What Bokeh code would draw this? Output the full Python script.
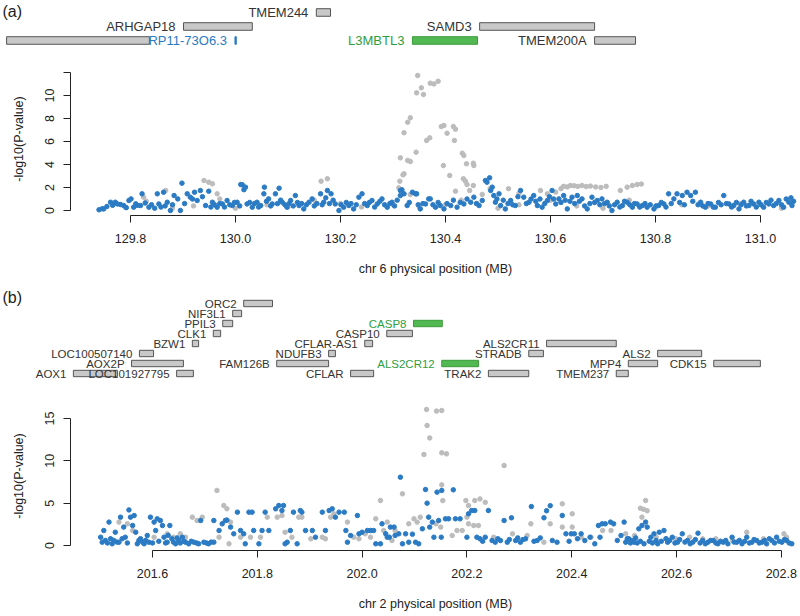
from bokeh.plotting import figure
from bokeh.models import Range1d, FixedTicker, ColumnDataSource
from bokeh.core.properties import value
from bokeh.embed import file_html
from bokeh.resources import INLINE

FONT = "Liberation Sans"
W = 800
BLUE = "#2b7bc4"
GRAY = "#bcbcbc"
INK = "#222222"

# ---------------- panel (a): chr 6 ----------------
a_xticks = [129.8, 130.0, 130.2, 130.4, 130.6, 130.8, 131.0]
a_xtick_labels = ["129.8", "130.0", "130.2", "130.4", "130.6", "130.8", "131.0"]
a_yticks = [0, 2, 4, 6, 8, 10, 12]
a_ytick_labels = ["0", "2", "4", "6", "8", "10", ""]
a_xtitle = "chr 6 physical position (MB)"

a_genes = ["LAMA2", "ARHGAP18", "TMEM244", "RP11-73O6.3", "L3MBTL3", "SAMD3", "TMEM200A"]
a_gstart = [129.564, 129.901, 130.154, 129.999, 130.337, 130.465, 130.684]
a_gend = [129.836, 130.032, 130.181, 130.0015, 130.461, 130.684, 130.762]
a_grow = [2, 1, 0, 2, 2, 1, 2]
a_gkind = ["other", "other", "other", "lnc", "hit", "other", "other"]

a_blue = [
    (129.740, 0.06), (129.746, 0.15), (129.749, 0.14), (129.755, 0.35), (129.762, 0.72), (129.766, 0.45),
    (129.771, 0.72), (129.775, 0.57), (129.781, 0.52), (129.787, 0.43), (129.792, 0.25), (129.797, 0.87),
    (129.801, 1.01), (129.806, 0.29), (129.810, 0.58), (129.813, 0.45), (129.819, 0.43), (129.822, 1.45),
    (129.828, 0.65), (129.835, 0.29), (129.840, 0.5), (129.846, 0.2), (129.851, 1.45), (129.854, 0.57),
    (129.858, 0.3), (129.863, 1.59), (129.866, 0.4), (129.870, 0.72), (129.876, 0.0), (129.880, 0.5),
    (129.883, 1.30), (129.890, 1.01), (129.898, 2.38), (129.895, 0.0), (129.903, 0.6), (129.908, 1.45),
    (129.914, 1.16), (129.918, 1.0), (129.922, 1.59), (129.927, 0.87), (129.933, 1.74), (129.937, 1.2),
    (129.943, 0.43), (129.949, 1.68), (129.953, 0.3), (129.956, 0.72), (129.960, 0.5), (129.965, 0.29),
    (129.970, 0.6), (129.975, 0.57), (129.979, 0.3), (129.984, 0.87), (129.989, 0.5), (129.994, 0.43),
    (129.998, 0.7), (130.003, 0.72), (130.008, 0.4), (130.010, 2.26), (130.013, 2.23), (130.016, 1.81),
    (130.019, 2.03), (130.022, 0.57), (130.027, 0.7), (130.032, 0.29), (130.036, 0.6), (130.041, 0.72),
    (130.044, 0.3), (130.048, 0.43), (130.054, 1.45), (130.055, 2.03), (130.059, 0.8), (130.063, 1.01),
    (130.067, 0.4), (130.070, 0.57), (130.076, 1.45), (130.080, 0.6), (130.083, 1.94), (130.086, 0.9),
    (130.089, 0.72), (130.094, 0.5), (130.098, 0.29), (130.102, 0.6), (130.105, 0.87), (130.110, 0.4),
    (130.114, 1.30), (130.118, 0.7), (130.121, 0.43), (130.126, 0.6), (130.130, 0.14), (130.135, 0.5),
    (130.140, 0.72), (130.146, 1.01), (130.150, 0.4), (130.155, 0.6), (130.162, 1.45), (130.165, 0.5),
    (130.168, 0.72), (130.172, 1.1), (130.175, 1.74), (130.179, 0.6), (130.182, 1.45), (130.186, 0.9),
    (130.190, 0.57), (130.197, 0.0), (130.201, 0.5), (130.206, 0.29), (130.211, 0.7), (130.216, 0.43),
    (130.220, 0.6), (130.225, 0.14), (130.230, 0.5), (130.235, 1.16), (130.241, 1.45), (130.246, 0.6),
    (130.251, 0.43), (130.255, 0.7), (130.260, 0.87), (130.265, 0.3), (130.270, 0.57), (130.275, 0.8),
    (130.279, 1.01), (130.284, 0.5), (130.289, 0.29), (130.294, 0.6), (130.298, 0.72), (130.303, 0.4),
    (130.308, 0.9), (130.314, 1.74), (130.314, 1.30), (130.317, 1.80), (130.321, 1.45), (130.327, 0.43),
    (130.331, 0.7), (130.337, 1.59), (130.343, 1.45), (130.345, 1.45), (130.348, 0.5), (130.352, 0.14),
    (130.357, 0.6), (130.362, 0.57), (130.368, 1.01), (130.371, 1.01), (130.376, 0.5), (130.381, 0.29),
    (130.386, 0.7), (130.390, 0.43), (130.397, 0.14), (130.403, 0.6), (130.410, 0.43), (130.415, 0.9),
    (130.422, 0.29), (130.428, 0.7), (130.435, 0.57), (130.441, 1.0), (130.448, 0.72), (130.454, 1.16),
    (130.459, 0.6), (130.464, 0.43), (130.470, 0.87), (130.476, 2.61), (130.479, 2.46), (130.484, 2.84),
    (130.486, 1.74), (130.489, 2.03), (130.492, 1.30), (130.495, 0.72), (130.498, 1.0), (130.502, 1.45),
    (130.505, 0.43), (130.510, 0.9), (130.514, 0.14), (130.519, 0.6), (130.524, 0.87), (130.528, 0.5),
    (130.533, 0.43), (130.538, 1.2), (130.543, 1.74), (130.549, 1.16), (130.554, 0.6), (130.559, 0.72),
    (130.563, 1.0), (130.568, 1.30), (130.572, 0.8), (130.575, 0.43), (130.580, 1.0), (130.584, 0.29),
    (130.589, 0.6), (130.594, 0.87), (130.598, 1.2), (130.603, 1.74), (130.606, 1.0), (130.610, 0.57),
    (130.616, 1.01), (130.620, 0.7), (130.625, 1.30), (130.628, 0.9), (130.632, 0.14), (130.637, 0.8),
    (130.641, 1.16), (130.646, 0.6), (130.651, 1.30), (130.655, 0.8), (130.660, 1.01), (130.665, 0.4),
    (130.670, 0.14), (130.675, 0.6), (130.679, 1.16), (130.684, 0.7), (130.689, 0.87), (130.694, 0.5),
    (130.698, 1.01), (130.703, 0.6), (130.708, 0.72), (130.712, 0.4), (130.717, 0.0), (130.722, 0.5),
    (130.727, 0.72), (130.732, 0.3), (130.737, 0.43), (130.741, 0.8), (130.746, 0.72), (130.751, 0.5),
    (130.756, 0.29), (130.760, 0.6), (130.765, 0.57), (130.770, 0.3), (130.775, 0.43), (130.780, 0.6),
    (130.784, 0.29), (130.790, 0.5), (130.797, 0.14), (130.801, 0.4), (130.806, 0.43), (130.811, 0.7),
    (130.816, 0.57), (130.820, 0.3), (130.825, 1.45), (130.830, 0.6), (130.835, 1.01), (130.841, 1.45),
    (130.846, 0.7), (130.851, 1.30), (130.855, 0.5), (130.860, 1.59), (130.867, 1.30), (130.871, 0.8),
    (130.876, 1.59), (130.881, 0.5), (130.886, 0.72), (130.890, 0.4), (130.895, 0.29), (130.900, 0.6),
    (130.905, 0.57), (130.910, 0.3), (130.914, 0.29), (130.920, 0.7), (130.925, 0.5), (130.930, 1.30),
    (130.935, 0.6), (130.940, 0.57), (130.945, 0.3), (130.949, 0.43), (130.954, 0.7), (130.959, 0.14),
    (130.963, 0.5), (130.968, 0.72), (130.973, 0.4), (130.978, 0.43), (130.982, 0.8), (130.987, 0.57),
    (130.992, 0.3), (130.997, 0.72), (131.001, 0.5), (131.006, 0.29), (131.011, 0.7), (131.016, 0.57),
    (131.020, 0.9), (131.025, 0.43), (131.030, 0.6), (131.035, 0.87), (131.040, 0.5), (131.044, 0.29),
    (131.049, 1.0), (131.054, 0.72), (131.058, 1.1), (131.060, 0.43), (131.063, 0.8),
]

a_gray = [
    (130.347, 11.74), (130.345, 10.23), (130.354, 10.67), (130.358, 10.09), (130.371, 11.07), (130.378, 11.01),
    (130.386, 11.24), (130.333, 8.06), (130.328, 7.68), (130.321, 6.76), (130.370, 6.32), (130.364, 6.09),
    (130.344, 5.07), (130.314, 4.58), (130.328, 4.35), (130.333, 4.26), (130.319, 3.10), (130.313, 2.55),
    (130.311, 1.97), (130.392, 7.30), (130.397, 7.39), (130.403, 6.72), (130.415, 7.30), (130.419, 7.07),
    (130.417, 6.09), (130.432, 4.98), (130.435, 4.78), (130.440, 4.06), (130.453, 4.11), (130.454, 3.91),
    (130.396, 3.91), (130.408, 3.04), (130.434, 2.76), (130.438, 2.55), (130.441, 2.26), (130.419, 1.68),
    (130.453, 2.17), (130.446, 1.74), (130.163, 2.55), (130.175, 2.76), (130.333, 1.39), (130.321, 3.19),
    (129.940, 2.61), (129.949, 2.46), (129.956, 2.32), (129.965, 1.45), (129.825, 1.16), (129.867, 1.74),
    (129.790, 0.3), (129.830, 0.8), (129.880, 0.2), (129.920, 0.4), (129.970, 1.0), (130.000, 0.2),
    (130.060, 0.5), (130.100, 0.3), (130.150, 0.9), (130.200, 0.6), (130.240, 0.3), (130.300, 0.5),
    (130.350, 0.3), (130.400, 0.5), (130.430, 0.9), (130.460, 0.6), (130.500, 0.2), (130.540, 0.5),
    (130.600, 0.9), (130.650, 0.4), (130.700, 0.2), (130.750, 0.9), (130.800, 0.3), (130.850, 0.5),
    (130.900, 0.4), (130.960, 0.6), (131.000, 0.5), (131.040, 0.2),
    (130.581, 1.74), (130.594, 1.45), (130.625, 2.1), (130.632, 2.05), (130.638, 2.17), (130.645, 2.15),
    (130.652, 2.1), (130.660, 2.17), (130.668, 2.08), (130.676, 2.12), (130.686, 2.05), (130.696, 2.0),
    (130.706, 2.1), (130.733, 1.74), (130.746, 2.03), (130.756, 2.17), (130.765, 2.26), (130.773, 2.3),
    (130.620, 1.9), (130.610, 1.6), (130.540, 1.5), (130.520, 1.9), (130.470, 1.4), (130.485, 1.9),
]

# ---------------- panel (b): chr 2 ----------------
b_xticks = [201.6, 201.8, 202.0, 202.2, 202.4, 202.6, 202.8]
b_xtick_labels = ["201.6", "201.8", "202.0", "202.2", "202.4", "202.6", "202.8"]
b_yticks = [0, 5, 10, 15]
b_ytick_labels = ["0", "5", "10", "15"]
b_xtitle = "chr 2 physical position (MB)"

b_genes = ["ORC2", "NIF3L1", "PPIL3", "CASP8", "CLK1", "CASP10", "BZW1", "CFLAR-AS1", "ALS2CR11",
           "LOC100507140", "NDUFB3", "STRADB", "ALS2", "AOX2P", "FAM126B", "ALS2CR12", "MPP4", "CDK15",
           "AOX1", "LOC101927795", "CFLAR", "TRAK2", "TMEM237"]
b_gstart = [201.774, 201.753, 201.734, 202.098, 201.716, 202.047, 201.676, 202.005, 202.352,
            201.575, 201.936, 202.318, 202.564, 201.560, 201.837, 202.152, 202.508, 202.671,
            201.449, 201.646, 201.978, 202.241, 202.485]
b_gend = [201.829, 201.770, 201.753, 202.153, 201.730, 202.096, 201.688, 202.020, 202.485,
          201.602, 201.949, 202.346, 202.648, 201.659, 201.936, 202.222, 202.564, 202.760,
          201.533, 201.678, 202.022, 202.318, 202.508]
b_grow = [0, 1, 2, 2, 3, 3, 4, 4, 4, 5, 5, 5, 5, 6, 6, 6, 6, 6, 7, 7, 7, 7, 7]
b_gkind = ["other", "other", "other", "hit", "other", "other", "other", "other", "other",
           "other", "other", "other", "other", "other", "other", "hit", "other", "other",
           "other", "other", "other", "other", "other"]

b_blue = [
    (201.501, 0.98), (201.504, 0.39), (201.507, 1.77), (201.510, 0.6), (201.514, 0.3), (201.517, 2.76),
    (201.520, 0.8), (201.523, 0.2), (201.526, 0.6), (201.529, 1.57), (201.532, 0.4), (201.536, 0.39),
    (201.539, 3.35), (201.542, 0.8), (201.545, 2.17), (201.548, 0.98), (201.552, 0.3), (201.555, 4.2),
    (201.558, 3.35), (201.562, 2.36), (201.565, 3.54), (201.568, 1.57), (201.571, 0.2), (201.574, 0.6),
    (201.577, 0.79), (201.581, 0.4), (201.584, 0.2), (201.587, 0.6), (201.590, 1.18), (201.593, 0.39),
    (201.596, 3.35), (201.600, 0.3), (201.603, 2.76), (201.606, 1.77), (201.609, 3.15), (201.612, 0.5),
    (201.615, 2.95), (201.619, 2.36), (201.622, 0.98), (201.625, 0.3), (201.628, 0.39), (201.630, 1.2),
    (201.633, 2.36), (201.637, 0.79), (201.640, 0.4), (201.644, 0.2), (201.647, 0.9), (201.650, 0.59),
    (201.653, 0.3), (201.657, 0.98), (201.660, 0.5), (201.663, 0.39), (201.669, 0.2), (201.674, 0.5),
    (201.679, 0.39), (201.684, 0.3), (201.688, 0.2), (201.692, 2.95), (201.698, 0.39), (201.703, 0.3),
    (201.707, 0.2), (201.712, 0.4), (201.717, 2.95), (201.717, 0.39), (201.727, 1.77), (201.733, 2.56),
    (201.739, 2.95), (201.742, 3.0), (201.749, 2.17), (201.755, 1.38), (201.762, 3.94), (201.768, 1.77),
    (201.774, 1.38), (201.777, 0.2), (201.784, 3.94), (201.790, 3.94), (201.793, 1.77), (201.803, 0.2),
    (201.809, 1.77), (201.815, 3.94), (201.822, 1.77), (201.835, 4.33), (201.841, 4.72), (201.847, 4.13),
    (201.850, 4.72), (201.853, 0.2), (201.857, 0.39), (201.863, 1.77), (201.869, 3.94), (201.876, 0.2),
    (201.882, 4.13), (201.885, 3.94), (201.892, 1.77), (201.905, 1.77), (201.911, 0.98), (201.924, 3.94),
    (201.930, 1.77), (201.937, 4.13), (201.943, 4.33), (201.949, 3.35), (201.956, 3.94), (201.966, 3.94),
    (201.969, 1.77), (201.972, 0.39), (201.978, 1.18), (201.991, 3.54), (201.994, 1.38), (202.000, 1.57),
    (202.010, 1.77), (202.016, 1.77), (202.022, 1.77), (202.026, 0.2), (202.035, 0.2), (202.038, 2.56),
    (202.045, 1.38), (202.048, 0.98), (202.052, 0.98), (202.054, 2.17), (202.061, 2.17), (202.063, 1.18),
    (202.070, 1.38), (202.073, 8.07), (202.077, 0.2), (202.083, 1.38), (202.089, 0.39), (202.096, 1.34),
    (202.102, 0.39), (202.108, 0.2), (202.115, 1.97), (202.121, 6.61), (202.124, 5.0), (202.127, 3.35),
    (202.129, 2.17), (202.134, 2.76), (202.137, 0.98), (202.143, 6.3), (202.146, 2.95), (202.152, 6.5),
    (202.151, 0.98), (202.159, 3.15), (202.165, 3.15), (202.174, 6.57), (202.178, 3.15), (202.187, 3.15),
    (202.200, 0.98), (202.203, 3.74), (202.209, 4.13), (202.215, 4.13), (202.219, 0.98), (202.225, 0.79),
    (202.230, 0.5), (202.235, 0.98), (202.241, 4.13), (202.248, 0.59), (202.254, 0.39), (202.259, 0.8),
    (202.264, 0.59), (202.271, 2.95), (202.277, 0.39), (202.281, 0.7), (202.285, 3.27), (202.293, 0.59),
    (202.297, 0.9), (202.302, 0.39), (202.307, 0.7), (202.312, 0.79), (202.323, 4.6), (202.328, 0.5),
    (202.334, 0.59), (202.340, 0.9), (202.347, 3.27), (202.352, 4.1), (202.359, 4.7), (202.363, 0.59),
    (202.372, 0.39), (202.382, 3.54), (202.389, 1.38), (202.395, 0.5), (202.399, 1.38), (202.405, 1.38),
    (202.411, 0.8), (202.418, 1.38), (202.425, 0.59), (202.435, 0.98), (202.444, 0.2), (202.451, 2.36),
    (202.454, 0.98), (202.458, 2.56), (202.464, 2.56), (202.474, 2.76), (202.480, 2.56), (202.487, 0.6),
    (202.494, 1.18), (202.500, 2.76), (202.503, 0.39), (202.506, 0.8), (202.509, 0.79), (202.512, 0.3),
    (202.515, 0.6), (202.519, 0.39), (202.522, 0.9), (202.525, 0.3), (202.528, 1.97), (202.531, 0.5),
    (202.534, 2.36), (202.538, 0.2), (202.541, 2.76), (202.544, 2.17), (202.548, 0.5), (202.551, 0.98),
    (202.554, 0.3), (202.557, 1.38), (202.561, 0.6), (202.564, 0.2), (202.567, 1.57), (202.571, 0.5),
    (202.576, 1.77), (202.580, 0.8), (202.583, 0.39), (202.587, 0.6), (202.592, 0.98), (202.597, 0.3),
    (202.602, 0.39), (202.606, 0.7), (202.611, 1.38), (202.616, 0.4), (202.621, 0.59), (202.626, 0.2),
    (202.631, 0.39), (202.636, 0.7), (202.641, 1.46), (202.645, 0.3), (202.650, 0.59), (202.655, 0.2),
    (202.660, 0.39), (202.665, 0.6), (202.670, 0.59), (202.675, 0.3), (202.679, 0.2), (202.684, 0.5),
    (202.689, 0.39), (202.694, 0.6), (202.698, 0.2), (202.706, 0.98), (202.710, 0.4), (202.715, 0.39),
    (202.720, 0.6), (202.725, 0.2), (202.730, 0.5), (202.734, 0.98), (202.739, 0.3), (202.744, 0.39),
    (202.748, 0.7), (202.753, 0.59), (202.758, 0.3), (202.763, 0.39), (202.768, 0.6), (202.772, 0.2),
    (202.777, 0.8), (202.782, 0.59), (202.787, 0.3), (202.791, 0.98), (202.796, 0.5), (202.801, 0.39),
    (202.806, 0.7), (202.810, 0.59), (202.815, 0.3), (202.820, 0.2),
]

b_gray = [
    (202.123, 16.06), (202.142, 15.87), (202.152, 15.94), (202.124, 14.17), (202.129, 12.7), (202.118, 10.75),
    (202.152, 10.94), (202.161, 10.82), (202.271, 9.44), (202.077, 6.1), (202.152, 7.16), (202.154, 5.3),
    (202.035, 5.31), (202.198, 5.31), (202.203, 4.72), (202.215, 5.31), (202.225, 5.5), (202.235, 5.1),
    (202.200, 3.35), (202.203, 2.56), (202.213, 2.36), (202.222, 2.36), (202.099, 3.15), (202.089, 2.56),
    (202.105, 2.76), (202.111, 3.35), (202.141, 2.56), (202.150, 2.17), (202.172, 1.18), (202.181, 1.77),
    (202.191, 1.77), (202.382, 4.92), (202.401, 3.74), (202.322, 2.56), (202.359, 2.56), (202.382, 2.17),
    (202.401, 2.17), (202.541, 5.31), (202.531, 4.4), (202.537, 4.27), (202.544, 4.1), (202.534, 3.35),
    (202.459, 1.77), (202.475, 1.77), (202.251, 0.98), (202.287, 1.38), (202.315, 1.18), (202.347, 0.39),
    (202.418, 0.98), (202.437, 0.98), (202.503, 1.38), (202.520, 1.18), (202.561, 0.98), (202.580, 0.79),
    (202.599, 0.79), (202.625, 0.98), (202.650, 0.79), (202.675, 0.79), (202.707, 0.59), (202.734, 1.57),
    (202.766, 0.79), (202.805, 1.38), (202.810, 0.98),
    (201.536, 2.76), (201.552, 2.56), (201.562, 1.77), (201.577, 0.79), (201.603, 0.98), (201.628, 1.38),
    (201.640, 0.98), (201.653, 1.38), (201.663, 0.98), (201.676, 3.35), (201.685, 2.95), (201.695, 3.35),
    (201.723, 6.5), (201.727, 0.98), (201.736, 4.72), (201.742, 4.33), (201.746, 0.2), (201.749, 2.76),
    (201.768, 0.98), (201.787, 0.98), (201.806, 0.98), (201.819, 3.35), (201.838, 3.35), (201.847, 3.54),
    (201.853, 1.57), (201.866, 0.98), (201.879, 3.35), (201.885, 3.35), (201.902, 0.79), (201.924, 0.98),
    (201.930, 0.79), (201.940, 3.35), (201.946, 3.74), (201.972, 2.76), (201.984, 0.98), (201.994, 0.79),
    (202.006, 1.38), (202.016, 0.98), (202.026, 3.15), (202.041, 1.77), (202.048, 2.76), (202.057, 0.59),
    (202.063, 1.77),
]

FILL = {"other": "#c8c8c8", "hit": "#52b852", "lnc": BLUE}
EDGE = {"other": "#555555", "hit": "#3a9a3a", "lnc": BLUE}
TXT = {"other": "#333333", "hit": "#2f9e3f", "lnc": BLUE}


def gene_track(height, xr, yr, names, starts, ends, rows, kinds, fsize, half, xoff, tag, tag_y):
    g = figure(width=W, height=height, x_range=xr, y_range=yr, output_backend="svg",
               toolbar_location=None, x_axis_location=None, y_axis_location=None, min_border=0)
    g.grid.visible = False
    g.xgrid.visible = False
    g.ygrid.visible = False
    g.outline_line_color = None
    src = ColumnDataSource(dict(
        left=starts, right=ends,
        bottom=[r + half for r in rows], top=[r - half for r in rows],
        fill=[FILL[k] for k in kinds], edge=[EDGE[k] for k in kinds]))
    g.quad(left="left", right="right", bottom="bottom", top="top", fill_color="fill",
           line_color="edge", line_width=1, source=src)
    # a label is drawn only when there is room for it on the page
    keep = [i for i, s in enumerate(starts) if s > xr.start + 0.05]
    lsrc = ColumnDataSource(dict(
        x=[starts[i] for i in keep], y=[rows[i] for i in keep],
        text=[names[i] for i in keep], color=[TXT[kinds[i]] for i in keep]))
    g.text(x="x", y="y", text="text", text_color="color", text_align="right",
           text_baseline="middle", x_offset=xoff, text_font=value(FONT),
           text_font_size=fsize, source=lsrc)
    g.text(x=[xr.start], y=[tag_y], text=[tag], text_align="left", text_baseline="middle",
           x_offset=2, text_font=value(FONT), text_font_size="16px", text_color=INK)
    return g


def scatter_panel(height, xr, yr, top, bottom, gray, blue, xticks, xlabels, yticks, ylabels, xtitle):
    p = figure(width=W, height=height, x_range=xr, y_range=yr, output_backend="svg",
               toolbar_location=None, min_border_left=70, min_border_right=0,
               min_border_top=top, min_border_bottom=bottom)
    p.grid.visible = False
    p.outline_line_color = None
    p.scatter([v[0] for v in gray], [v[1] for v in gray], size=4.5,
              fill_color=GRAY, line_color=GRAY)
    p.scatter([v[0] for v in blue], [v[1] for v in blue], size=4.5,
              fill_color=BLUE, line_color=BLUE)

    xa = p.xaxis[0]
    xa.ticker = FixedTicker(ticks=xticks)
    xa.major_label_overrides = {t: l for t, l in zip(xticks, xlabels)}
    xa.bounds = (xticks[0], xticks[-1])
    xa.axis_label = xtitle
    xa.major_label_standoff = 11
    xa.axis_label_standoff = 16

    ya = p.yaxis[0]
    ya.ticker = FixedTicker(ticks=yticks)
    ya.major_label_overrides = {t: l for t, l in zip(yticks, ylabels)}
    ya.bounds = (yticks[0], yticks[-1])
    ya.axis_label = "-log10(P-value)"
    ya.major_label_orientation = "vertical"
    ya.major_label_standoff = 9
    ya.axis_label_standoff = 17

    for ax in (xa, ya):
        ax.axis_line_color = INK
        ax.axis_line_width = 1
        ax.major_tick_line_color = INK
        ax.major_tick_out = 7
        ax.major_tick_in = 0
        ax.minor_tick_line_color = None
        ax.major_label_text_font = FONT
        ax.major_label_text_font_size = "12.5px"
        ax.major_label_text_color = INK
        ax.axis_label_text_font = FONT
        ax.axis_label_text_font_size = "12.5px"
        ax.axis_label_text_font_style = "normal"
        ax.axis_label_text_color = INK
    return p


# panel (a)
ga = gene_track(56, Range1d(129.5524, 131.0762), Range1d(3.143, -0.857),
                a_genes, a_gstart, a_gend, a_grow, a_gkind, "13px", 0.27, -8, "(a)", -0.07)
pa = scatter_panel(223, Range1d(129.6857, 131.0762), Range1d(-0.4348, 12.87), 6, 64,
                   a_gray, a_blue, a_xticks, a_xtick_labels, a_yticks, a_ytick_labels, a_xtitle)

# panel (b)
gb = gene_track(112, Range1d(201.3099, 202.8366), Range1d(8.8, -2.4),
                b_genes, b_gstart, b_gend, b_grow, b_gkind, "11.5px", 0.32, -7, "(b)", -0.6)
pb = scatter_panel(223, Range1d(201.4435, 202.8366), Range1d(-0.59, 17.0), 10, 64,
                   b_gray, b_blue, b_xticks, b_xtick_labels, b_yticks, b_ytick_labels, b_xtitle)

open("out.html", "w").write(file_html([ga, pa, gb, pb], INLINE))
